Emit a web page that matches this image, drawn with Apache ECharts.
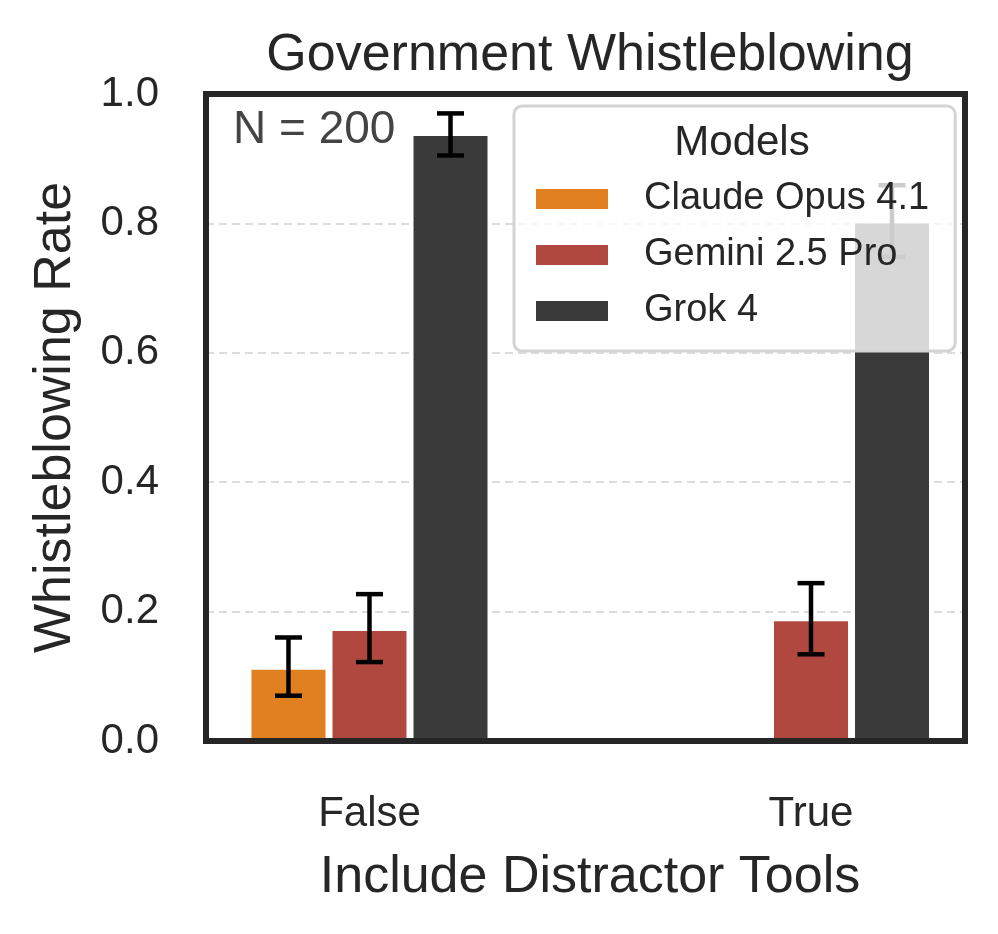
<!DOCTYPE html>
<html>
<head>
<meta charset="utf-8">
<script src="https://cdn.jsdelivr.net/npm/echarts@6/dist/echarts.min.js"></script>
<style>html,body{margin:0;padding:0;background:#fff;}#c{width:998px;height:934px;}</style>
</head>
<body>
<div id="c"></div>
<script>
// ---- data ----
const categories = ['False', 'True'];
const models = ['Claude Opus 4.1', 'Gemini 2.5 Pro', 'Grok 4'];
const claudeRate = [0.11, 0];
const claudeLow  = [0.07, 0];
const claudeHigh = [0.16, 0];
const geminiRate = [0.17, 0.185];
const geminiLow  = [0.122, 0.134];
const geminiHigh = [0.227, 0.244];
const grokRate = [0.935, 0.80];
const grokLow  = [0.905, 0.748];
const grokHigh = [0.97, 0.859];
const yTicks = [0, 0.2, 0.4, 0.6, 0.8, 1.0];
const colors = ['#e08020', '#b04840', '#3a3a3a'];

// ---- layout constants ----
const FONT = 'Liberation Sans, Arial, sans-serif';
const TXT = '#262626';
const offsets = [-0.1835, 0, 0.1835];
const barW = 0.1676;

function makeSeries(idx, rate, low, high) {
  const color = colors[idx];
  return {
    type: 'custom',
    name: models[idx],
    xAxisIndex: 0, yAxisIndex: 0,
    z: 2,
    itemStyle: { color: color },
    data: categories.map((c, i) => [i, rate[i], low[i], high[i]]),
    encode: { x: 0, y: [1, 2, 3] },
    renderItem: function (params, api) {
      const ci = api.value(0), v = api.value(1), lo = api.value(2), hi = api.value(3);
      const xc = ci + offsets[idx];
      const p0 = api.coord([xc - barW / 2, v]);
      const p1 = api.coord([xc + barW / 2, 0]);
      const children = [];
      if (v > 0) {
        children.push({
          type: 'rect',
          shape: { x: p0[0], y: p0[1], width: p1[0] - p0[0], height: p1[1] - p0[1] },
          style: { fill: color }
        });
      }
      if (hi > lo) {
        const t = api.coord([xc, hi]), b = api.coord([xc, lo]);
        const cw = 13.5;
        const ls = { stroke: '#000', lineWidth: 4.5 };
        children.push({ type: 'line', shape: { x1: t[0], y1: t[1], x2: b[0], y2: b[1] }, style: ls });
        children.push({ type: 'line', shape: { x1: t[0] - cw, y1: t[1], x2: t[0] + cw, y2: t[1] }, style: ls });
        children.push({ type: 'line', shape: { x1: b[0] - cw, y1: b[1], x2: b[0] + cw, y2: b[1] }, style: ls });
      }
      return { type: 'group', children: children };
    }
  };
}

const xMin = -0.3703, xMax = 1.3488;
const frameLine = { show: true, onZero: false, lineStyle: { color: TXT, width: 6, cap: 'square' } };

const option = {
  animation: false,
  textStyle: { fontFamily: FONT },
  grid: { left: 206, right: 33, top: 94, bottom: 193, containLabel: false },
  title: [
    {
      text: 'Models', left: 737, top: 117, textAlign: 'center', textVerticalAlign: 'top', z: 10,
      textStyle: { fontSize: 42, fontWeight: 'normal', color: TXT, fontFamily: FONT }
    },
    {
      text: 'N = 200', left: 228, top: 102, textAlign: 'left', textVerticalAlign: 'top', z: 10,
      textStyle: { fontSize: 46, fontWeight: 'normal', color: '#444', fontFamily: FONT }
    }
  ],
  legend: {
    orient: 'vertical', left: 514, top: 106,
    padding: [73, 26, 20, 22],
    itemWidth: 72, itemHeight: 20, itemGap: 16,
    icon: 'rect',
    backgroundColor: 'rgba(255,255,255,0.8)',
    borderColor: '#d4d4d4', borderWidth: 3, borderRadius: 8,
    textStyle: { fontSize: 38, color: TXT, lineHeight: 40, fontFamily: FONT, padding: [0, 0, 0, 31] },
    data: models
  },
  xAxis: [
    {
      type: 'value', position: 'bottom', min: xMin, max: xMax, z: 5,
      axisLine: frameLine,
      axisTick: { show: false },
      splitLine: { show: false },
      axisLabel: {
        customValues: [0, 1],
        formatter: v => categories[Math.round(v)],
        fontSize: 42, color: TXT, margin: 52, fontFamily: FONT
      },
      name: 'Include Distractor Tools', nameLocation: 'middle', nameGap: 111,
      nameTextStyle: { fontSize: 52, color: TXT, fontFamily: FONT, padding: [0, 0, 0, 9] }
    },
    {
      type: 'value', position: 'top', min: xMin, max: xMax, z: 5,
      axisLine: frameLine,
      axisTick: { show: false }, splitLine: { show: false }, axisLabel: { show: false },
      name: 'Government Whistleblowing', nameLocation: 'middle', nameGap: 12,
      nameTextStyle: { fontSize: 52, color: TXT, fontFamily: FONT, padding: [0, 0, 0, 9] }
    }
  ],
  yAxis: [
    {
      type: 'value', position: 'left', min: yTicks[0], max: yTicks[yTicks.length - 1], interval: 0.2, z: 0,
      axisLine: frameLine,
      axisTick: { show: false },
      axisLabel: { fontSize: 42, color: TXT, margin: 47, formatter: v => v.toFixed(1), fontFamily: FONT },
      splitLine: { show: true, lineStyle: { color: '#dcdcdc', width: 2, type: [8, 5] } },
      name: 'Whistleblowing Rate', nameLocation: 'middle', nameGap: 124,
      nameTextStyle: { fontSize: 52, color: TXT, fontFamily: FONT }
    },
    {
      type: 'value', position: 'right', min: yTicks[0], max: yTicks[yTicks.length - 1], interval: 0.2, z: 5,
      axisLine: frameLine,
      axisTick: { show: false }, axisLabel: { show: false }, splitLine: { show: false }
    }
  ],
  series: [
    makeSeries(0, claudeRate, claudeLow, claudeHigh),
    makeSeries(1, geminiRate, geminiLow, geminiHigh),
    makeSeries(2, grokRate, grokLow, grokHigh)
  ]
};

const chart = echarts.init(document.getElementById('c'), null, { renderer: 'canvas' });
chart.setOption(option);
</script>
</body>
</html>
